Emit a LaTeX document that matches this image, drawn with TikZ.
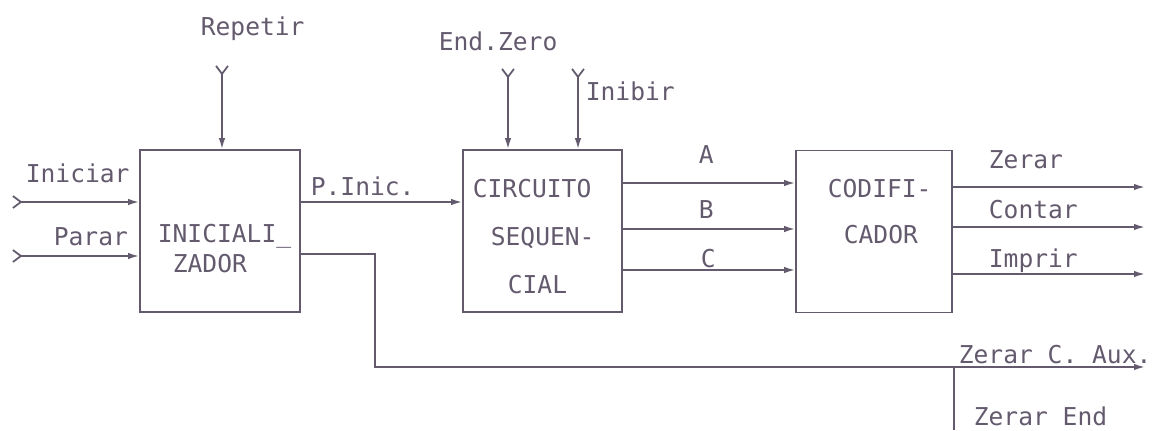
\documentclass[tikz,border=0pt]{standalone}
\usepackage{fontspec}
\setmonofont{DejaVu Sans Mono}
\usetikzlibrary{arrows.meta}
\definecolor{ink}{RGB}{100,90,110}

\begin{document}
\begin{tikzpicture}[x=0.02cm,y=-0.02cm,line width=1pt,color=ink,
  >={Latex[length=2.2mm,width=1.3mm]},
  blk/.style={draw,minimum width=3.2cm,minimum height=3.24cm,inner sep=0pt},
  lbl/.style={anchor=base west,inner sep=0pt,font=\ttfamily\fontsize{14}{16}\selectfont},
  inp/.style={{Straight Barb[reversed,length=1.6mm,width=2.4mm]}->}]
  \useasboundingbox (0,0) rectangle (1161,430);
  % blocos
  \node[blk] (ini) at (220,231) {};
  \node[blk,minimum width=3.18cm] (seq) at (542.5,231) {};
  \node[blk,minimum width=3.12cm] (cod) at (874,231.5) {};
  \node[lbl] at (157,242) {INICIALI\_};
  \node[lbl] at (172,272) {ZADOR};
  \node[lbl] at (472,197) {CIRCUITO};
  \node[lbl] at (490,245) {SEQUEN-};
  \node[lbl] at (507,293) {CIAL};
  \node[lbl] at (827,197) {CODIFI-};
  \node[lbl] at (843,243) {CADOR};
  % entradas
  \coordinate (ic) at (12,202);
  \coordinate (pa) at (12,256);
  \coordinate (rep) at (222,65);
  \coordinate (ez) at (508,68);
  \coordinate (inb) at (578,68);
  \draw[inp] (ic) -- (ic -| ini.west);
  \draw[inp] (pa) -- (pa -| ini.west);
  \draw[inp] (rep) -- (rep |- ini.north);
  \draw[inp] (ez) -- (ez |- seq.north);
  \draw[inp] (inb) -- (inb |- seq.north);
  \node[lbl] at (25,182) {Iniciar};
  \node[lbl] at (53,245) {Parar};
  \node[lbl] at (200,35) {Repetir};
  \node[lbl] at (438,50) {End.Zero};
  \node[lbl] at (585,100) {Inibir};
  % ligacoes
  \draw[->] (ini.east |- ic) -- (seq.west |- ic);
  \node[lbl] at (310,195) {P.Inic.};
  \coordinate (la) at (0,183);
  \coordinate (lb) at (0,229);
  \coordinate (lc) at (0,270);
  \draw[->] (seq.east |- la) -- (cod.west |- la);
  \draw[->] (seq.east |- lb) -- (cod.west |- lb);
  \draw[->] (seq.east |- lc) -- (cod.west |- lc);
  \node[lbl] at (698,163) {A};
  \node[lbl] at (698,218) {B};
  \node[lbl] at (700,267) {C};
  % saidas
  \coordinate (oz) at (1145,187);
  \coordinate (oc) at (1145,227);
  \coordinate (oi) at (1145,274);
  \draw[->] (cod.east |- oz) -- (oz);
  \draw[->] (cod.east |- oc) -- (oc);
  \draw[->] (cod.east |- oi) -- (oi);
  \node[lbl] at (988,168) {Zerar};
  \node[lbl] at (988,218) {Contar};
  \node[lbl] at (988,267) {Imprir};
  \coordinate (cx) at (375,367);
  \coordinate (aux) at (1145,367);
  \coordinate (zend) at (954,430);
  \draw[->] (ini.east |- 0,254) -| (cx) -- (aux);
  \draw (zend |- aux) -- (zend);
  \node[lbl] at (958,363) {Zerar C. Aux.};
  \node[lbl] at (973,425) {Zerar End};
\end{tikzpicture}
\end{document}
